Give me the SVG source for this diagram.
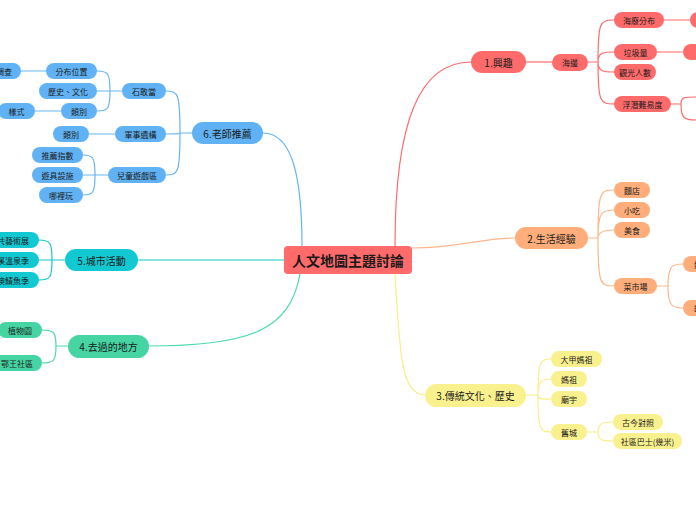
<svg xmlns="http://www.w3.org/2000/svg" width="696" height="520" viewBox="0 0 696 520">
<style>
text{font-family:"Noto Sans CJK TC","Noto Sans CJK SC",sans-serif;fill:#1a1a1a;text-anchor:middle;dominant-baseline:central}
.s{font-size:8px}
.t{font-size:10px}
.c{font-size:14px;font-weight:bold}
path{fill:none;stroke-width:1.2}
.r{fill:#FF6B6B}.lr{stroke:#FF6B6B}
.o{fill:#FFAE7B}.lo{stroke:#FFB68A}
.y{fill:#F9F18E}.ly{stroke:#F8EE8A}
.g{fill:#46D4A3}.lg{stroke:#4CD9A8}
.q{fill:#12C9D2}.lq{stroke:#18C7D0}
.b{fill:#60B2F4}.lb{stroke:#66B5F3}
</style>
<rect width="696" height="520" fill="#ffffff"/>
<g id="connectors">
<path class="lr" d="M395 246 C395 120 420 62 471 62"/>
<path class="lo" d="M412 248 C460 248 480 238 515 238"/>
<path class="ly" d="M395 274 C400 350 400 395 425 395"/>
<path class="lg" d="M300 274 C290 330 250 346 149 346"/>
<path class="lq" d="M284 260 L138 260"/>
<path class="lb" d="M302 246 C302 170 290 133 263 133"/>
<path class="lr" d="M526 62 H552"/>
<path class="lr" d="M588 62 H598 M598 62 C598 22 600 20 614 20 M598 62 C598 52 604 52 614 52 M598 62 C598 72 604 72 614 72 M598 62 C598 102 600 104 614 104"/>
<path class="lr" d="M664 20 H690 M657 52 H683 M671 104 H681 M681 104 C681 97 684 97 696 97 M681 104 C681 118 684 120 696 120"/>
<path class="lo" d="M588 238 H598 M598 238 C598 192 600 190 614 190 M598 238 C598 212 602 210 614 210 M598 238 C598 232 604 230 614 230 M598 238 C598 284 600 286 614 286"/>
<path class="lo" d="M657 286 H668 M668 286 C668 266 672 264 683 264 M668 286 C668 306 672 308 683 308"/>
<path class="ly" d="M526 395 H538 M538 395 C538 361 540 359 551 359 M538 395 C538 381 542 379 551 379 M538 395 C538 400 542 399 551 399 M538 395 C538 430 540 432 551 432"/>
<path class="ly" d="M587 432 H598 M598 432 C598 424 602 422 613 422 M598 432 C598 440 602 441 613 441"/>
<path class="lb" d="M192 133 H180 M180 133 C180 93 178 91 166 91 M180 133 C180 134 178 134 166 134 M180 133 C180 173 178 175 166 175"/>
<path class="lb" d="M122 91 H110 M110 91 C110 73 108 71 97 71 M110 91 H97 M110 91 C110 109 108 111 97 111"/>
<path class="lb" d="M46 71 H21 M61 111 H35 M115 134 H89"/>
<path class="lb" d="M108 175 H95 M95 175 C95 157 93 155 83 155 M95 175 H83 M95 175 C95 193 93 195 83 195"/>
<path class="lq" d="M65 260 H52 M52 260 C52 242 50 240 39 240 M52 260 H39 M52 260 C52 278 50 280 39 280"/>
<path class="lg" d="M68 346 H56 M56 346 C56 332 54 330 42 330 M56 346 C56 361 54 363 42 363"/>
</g>
<g id="center"><rect x="284" y="246" width="128" height="28" rx="4" class="r"/><text x="348" y="260" class="c">人文地圖主題討論</text></g>
<g id="t1"><rect x="471" y="51" width="55" height="22" rx="11" class="r"/><text x="498.5" y="62" class="t">1.興趣</text></g>
<g id="t1-1"><rect x="552" y="54" width="36" height="17" rx="8.5" class="r"/><text x="570" y="62.5" class="s">海邊</text></g>
<g id="t1-1-1"><rect x="614" y="12" width="50" height="16" rx="8" class="r"/><text x="639" y="20" class="s">海廢分布</text></g>
<g id="t1-1-1-1"><rect x="690" y="12" width="40" height="16" rx="8" class="r"/></g>
<g id="t1-1-2"><rect x="683" y="44" width="40" height="16" rx="8" class="r"/><text x="704" y="52" class="s">圖表</text></g>
<g id="t1-1-2p"><rect x="614" y="44" width="43" height="16" rx="8" class="r"/><text x="635.5" y="52" class="s">垃圾量</text></g>
<g id="t1-1-3"><rect x="614" y="64" width="42" height="16" rx="8" class="r"/><text x="635" y="72" class="s">觀光人數</text></g>
<g id="t1-1-4"><rect x="614" y="96" width="57" height="16" rx="8" class="r"/><text x="642.5" y="104" class="s">浮潛難易度</text></g>
<g id="t2"><rect x="515" y="227" width="73" height="22" rx="11" class="o"/><text x="551.5" y="238" class="t">2.生活經驗</text></g>
<g id="t2-1"><rect x="614" y="182" width="36" height="16" rx="8" class="o"/><text x="632" y="190" class="s">麵店</text></g>
<g id="t2-2"><rect x="614" y="202" width="36" height="16" rx="8" class="o"/><text x="632" y="210" class="s">小吃</text></g>
<g id="t2-3"><rect x="614" y="222" width="36" height="16" rx="8" class="o"/><text x="632" y="230" class="s">美食</text></g>
<g id="t2-4"><rect x="614" y="278" width="43" height="16" rx="8" class="o"/><text x="635.5" y="286" class="s">菜市場</text></g>
<g id="t2-4-1"><rect x="683" y="256" width="36" height="16" rx="8" class="o"/><text x="702" y="264" class="s">好處</text></g>
<g id="t2-4-2"><rect x="683" y="300" width="36" height="16" rx="8" class="o"/><text x="702" y="308" class="s">缺點</text></g>
<g id="t3"><rect x="425" y="384" width="101" height="23" rx="11.5" class="y"/><text x="475.5" y="395.5" class="t">3.傳統文化、歷史</text></g>
<g id="t3-1"><rect x="551" y="351" width="51" height="16" rx="8" class="y"/><text x="576.5" y="359" class="s">大甲媽祖</text></g>
<g id="t3-2"><rect x="551" y="371" width="36" height="16" rx="8" class="y"/><text x="569" y="379" class="s">媽祖</text></g>
<g id="t3-3"><rect x="551" y="391" width="36" height="16" rx="8" class="y"/><text x="569" y="399" class="s">廟宇</text></g>
<g id="t3-4"><rect x="551" y="424" width="36" height="16" rx="8" class="y"/><text x="569" y="432" class="s">舊城</text></g>
<g id="t3-4-1"><rect x="613" y="414" width="50" height="16" rx="8" class="y"/><text x="638" y="422" class="s">古今對照</text></g>
<g id="t3-4-2"><rect x="613" y="433" width="69" height="16" rx="8" class="y"/><text x="647.5" y="441" class="s">社區巴士(幾米)</text></g>
<g id="t4"><rect x="68" y="335" width="81" height="23" rx="11.5" class="g"/><text x="108.5" y="346.5" class="t">4.去過的地方</text></g>
<g id="t4-1"><rect x="-2" y="322" width="44" height="16" rx="8" class="g"/><text x="20" y="330" class="s">植物園</text></g>
<g id="t4-2"><rect x="-10" y="355" width="52" height="16" rx="8" class="g"/><text x="17" y="363" class="s">鄂王社區</text></g>
<g id="t5"><rect x="65" y="249" width="73" height="22" rx="11" class="q"/><text x="101.5" y="260" class="t">5.城市活動</text></g>
<g id="t5-1"><rect x="-21" y="232" width="60" height="16" rx="8" class="q"/><text x="9" y="240" class="s">公共藝術展</text></g>
<g id="t5-2"><rect x="-21" y="252" width="60" height="16" rx="8" class="q"/><text x="9" y="260" class="s">礁溪溫泉季</text></g>
<g id="t5-3"><rect x="-29" y="272" width="68" height="16" rx="8" class="q"/><text x="5" y="280" class="s">南方澳鯖魚季</text></g>
<g id="t6"><rect x="192" y="122" width="71" height="22" rx="11" class="b"/><text x="227.5" y="133" class="t">6.老師推薦</text></g>
<g id="t6-1"><rect x="122" y="83" width="44" height="16" rx="8" class="b"/><text x="144" y="91" class="s">石敢當</text></g>
<g id="t6-1-1"><rect x="46" y="63" width="51" height="16" rx="8" class="b"/><text x="71.5" y="71" class="s">分布位置</text></g>
<g id="t6-1-1-1"><rect x="-15" y="63" width="36" height="16" rx="8" class="b"/><text x="4" y="71" class="s">調查</text></g>
<g id="t6-1-2"><rect x="39" y="83" width="58" height="16" rx="8" class="b"/><text x="68" y="91" class="s">歷史、文化</text></g>
<g id="t6-1-3"><rect x="61" y="103" width="36" height="16" rx="8" class="b"/><text x="79" y="111" class="s">類別</text></g>
<g id="t6-1-3-1"><rect x="-2" y="103" width="37" height="16" rx="8" class="b"/><text x="16.5" y="111" class="s">樣式</text></g>
<g id="t6-2"><rect x="115" y="126" width="51" height="16" rx="8" class="b"/><text x="140.5" y="134" class="s">軍事遺構</text></g>
<g id="t6-2-1"><rect x="53" y="126" width="36" height="16" rx="8" class="b"/><text x="71" y="134" class="s">類別</text></g>
<g id="t6-3"><rect x="108" y="167" width="58" height="16" rx="8" class="b"/><text x="137" y="175" class="s">兒童遊戲區</text></g>
<g id="t6-3-1"><rect x="32" y="147" width="51" height="16" rx="8" class="b"/><text x="57.5" y="155" class="s">推薦指數</text></g>
<g id="t6-3-2"><rect x="32" y="167" width="51" height="16" rx="8" class="b"/><text x="57.5" y="175" class="s">遊具設施</text></g>
<g id="t6-3-3"><rect x="39" y="187" width="44" height="16" rx="8" class="b"/><text x="61" y="195" class="s">哪裡玩</text></g>
</svg>
